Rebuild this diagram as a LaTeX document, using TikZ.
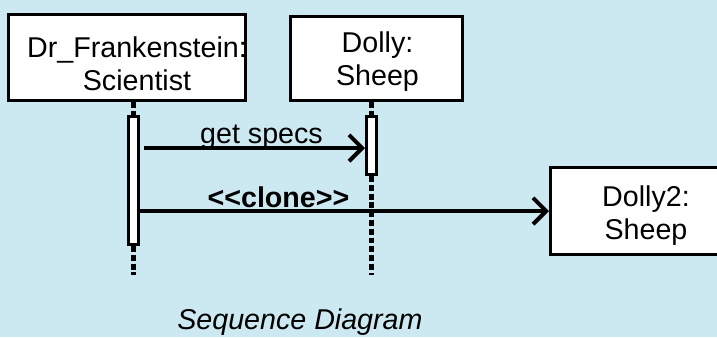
\documentclass[tikz,border=0pt]{standalone}
\usepackage{fontspec}
\setmainfont{Liberation Sans}
\usetikzlibrary{arrows.meta}
\definecolor{bgblue}{RGB}{204,232,241}

\tikzset{
  objbox/.style={draw,fill=white,line width=1.7pt,inner sep=0pt},
  objtext/.style={align=center,font=\fontsize{16.3}{18.8}\selectfont,inner sep=0pt},
  actbar/.style={draw,fill=white,line width=1.7pt,minimum width=0.2cm,inner sep=0pt},
  lifeline/.style={line width=2.5pt,dash pattern=on 3.4pt off 1.6pt},
  msg/.style={line width=2.3pt,-{Straight Barb[length=7.5pt,width=15pt,line width=2.3pt]}},
  lbl/.style={anchor=base,font=\fontsize{16.3}{18.8}\selectfont,inner sep=0pt}
}

\begin{document}
\begin{tikzpicture}
\clip (0,0) rectangle (14.34,-6.74);
\fill[bgblue] (0,0) rectangle (14.34,-6.74);

\node[objbox,minimum width=4.74cm,minimum height=1.72cm] (sci) at (2.54,-1.15) {};
\begin{scope}
\clip (sci.south west) rectangle (sci.north east);
\node[objtext] (scitext) at (2.74,-1.28) {Dr\_Frankenstein:\\Scientist};
\end{scope}
\node[objbox,minimum width=3.44cm,minimum height=1.68cm] (dolly) at (7.53,-1.17) {};
\node[objtext] (dollytext) at (7.55,-1.24) {Dolly:\\Sheep};
\node[objbox,minimum width=3.82cm,minimum height=1.74cm] (clone) at (12.92,-4.22) {};
\node[objtext] (clonetext) at (12.92,-4.32) {Dolly2:\\Sheep};

\node[actbar,minimum height=2.56cm] (bar1) at (2.67,-3.61) {};
\node[actbar,minimum height=1.16cm] (bar2) at (7.43,-2.91) {};

\coordinate (end1) at (2.67,-5.5);
\coordinate (end2) at (7.43,-5.5);
\coordinate (specsY) at (0,-2.96);

\draw[lifeline] (sci.south -| bar1) -- (bar1.north);
\draw[lifeline] (bar1.south) -- (end1);
\draw[lifeline] (dolly.south -| bar2) -- (bar2.north);
\draw[lifeline] (bar2.south) -- (end2);

\draw[msg] ([xshift=2pt]bar1.east |- specsY) -- (bar2.west |- specsY);
\draw[msg] (bar1.east |- clone.west) -- (clone.west);

\node[lbl] (specs) at (5.23,-2.86) {get specs};
\node[lbl,font=\fontsize{16.3}{18.8}\selectfont\bfseries] (clonemsg) at (5.57,-4.14) {<\kern0pt<clone>\kern0pt>};
\node[lbl,anchor=base west,font=\fontsize{16.3}{18.8}\selectfont\itshape] (title) at (3.54,-6.58) {Sequence Diagram};
\end{tikzpicture}
\end{document}
